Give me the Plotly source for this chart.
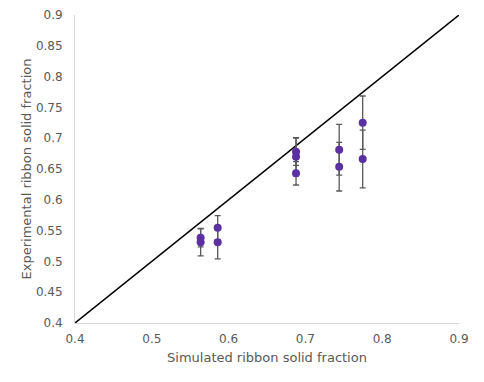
import plotly.graph_objects as go

sim_x = [0.5636, 0.5636, 0.5858, 0.5858, 0.6878, 0.6878, 0.6878, 0.744, 0.744, 0.7746, 0.7746]
exp_y = [0.5385, 0.531, 0.5547, 0.531, 0.678, 0.670, 0.643, 0.6813, 0.6537, 0.7252, 0.6662]
err_y = [0.015, 0.022, 0.0195, 0.027, 0.022, 0.031, 0.019, 0.0413, 0.0394, 0.0433, 0.047]
line_x = [0.4, 0.9]
line_y = [0.4, 0.9]
tick_vals_x = [0.4, 0.5, 0.6, 0.7, 0.8, 0.9]
tick_vals_y = [0.4, 0.45, 0.5, 0.55, 0.6, 0.65, 0.7, 0.75, 0.8, 0.85, 0.9]

fig = go.Figure()
fig.add_trace(go.Scatter(x=line_x, y=line_y, mode="lines",
                         line=dict(color="black", width=1.5), showlegend=False))
fig.add_trace(go.Scatter(
    x=sim_x, y=exp_y, mode="markers",
    marker=dict(color="#5B30A0", size=8),
    error_y=dict(type="data", array=err_y, visible=True, color="#595959", thickness=1.3, width=3),
    showlegend=False))

axis_common = dict(showgrid=False, zeroline=False, showline=True, linecolor="#D9D9D9", linewidth=1,
                   automargin=False,
                   tickfont=dict(family="DejaVu Sans", size=12, color="#595959"),
                   ticks="outside", tickcolor="rgba(0,0,0,0)")
fig.update_layout(
    width=484, height=382,
    margin=dict(l=67, r=33, t=7, b=67),
    paper_bgcolor="white", plot_bgcolor="white",
    xaxis=dict(range=[0.4, 0.9], tickvals=tick_vals_x, ticktext=[f"{v:g}" for v in tick_vals_x],
               ticklen=5,
               title=dict(text="Simulated ribbon solid fraction", standoff=7,
                          font=dict(family="DejaVu Sans", size=13, color="#595959")),
               **axis_common),
    yaxis=dict(range=[0.4, 0.9], tickvals=tick_vals_y, ticktext=[f"{v:g}" for v in tick_vals_y],
               ticklen=9,
               title=dict(text="Experimental ribbon solid fraction", standoff=1,
                          font=dict(family="DejaVu Sans", size=13, color="#595959")),
               **axis_common),
)
fig.write_html("out.html")
